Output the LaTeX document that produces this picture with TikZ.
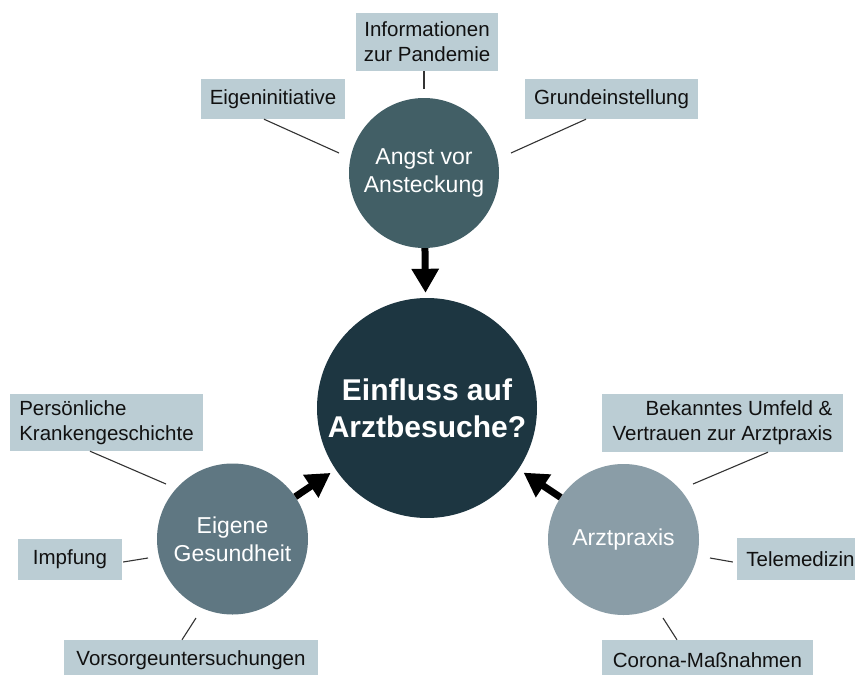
\documentclass[tikz,border=0pt]{standalone}
\usepackage{fontspec}
\setmainfont{Liberation Sans}
\usetikzlibrary{arrows.meta,calc}
\definecolor{boxfill}{HTML}{BBCDD4}
\definecolor{ctop}{HTML}{425F66}
\definecolor{cleft}{HTML}{5F7782}
\definecolor{cright}{HTML}{8A9DA7}
\definecolor{ccenter}{HTML}{1D3641}
\definecolor{txt}{HTML}{111111}
\begin{document}
\begin{tikzpicture}[x=1pt,y=-1pt,
  infobox/.style={fill=boxfill, text=txt, inner sep=0pt, font=\fontsize{20.5}{25}\selectfont, align=center},
  topic/.style={circle, inner sep=0pt, text=white, font=\fontsize{23}{27.7}\selectfont, align=center},
  link/.style={draw=black!80, line width=1.1pt},
  bigarrow/.style={line width=7pt, -{Triangle[width=26pt,length=24pt]}}]
\clip (0,0) rectangle (855,675);
\fill[white] (0,0) rectangle (855,675);

% circles
\node[topic, fill=ccenter, minimum size=220pt, font=\bfseries\fontsize{30}{37}\selectfont] (einfluss) at (427,408) {Einfluss auf\\Arztbesuche?};
\node[topic, fill=ctop, minimum size=150pt] (angst) at (424,173) {Angst vor\\Ansteckung};
\node[topic, fill=cleft, minimum size=151pt] (gesund) at (232.5,539) {Eigene\\Gesundheit};
\node[topic, fill=cright, minimum size=151pt] (praxis) at (623.5,539.5) {Arztpraxis};

% boxes
\node[infobox, minimum width=142pt, minimum height=58pt] (info) at (427,42) {Informationen\\zur Pandemie};
\node[infobox, minimum width=144pt, minimum height=40pt] (eigen) at (273,99) {Eigeninitiative};
\node[infobox, minimum width=173pt, minimum height=40pt] (grund) at (611.5,99) {Grundeinstellung};
\node[infobox, align=left, minimum width=193pt, minimum height=57pt] (pers) at (106.5,422.5) {Persönliche\\Krankengeschichte};
\node[infobox, minimum width=104pt, minimum height=41pt] (impf) at (70,559.5) {Impfung};
\node[infobox, minimum width=254pt, minimum height=40pt] (vorsorge) at (191,660) {Vorsorgeuntersuchungen};
\node[infobox, align=right, minimum width=241pt, minimum height=58pt] (bekannt) at (722.5,423) {Bekanntes Umfeld \&\\Vertrauen zur Arztpraxis};
\node[infobox, minimum width=127pt, minimum height=42pt] (tele) at (800.5,559) {Telemedizin};
\node[infobox, minimum width=211pt, minimum height=40pt] (corona) at (707.5,660) {Corona-Maßnahmen};

% connectors
\draw[link] ($(info.south)+(-3,0)$) -- ($(angst.center)+(0,-84)$);
\draw[link] ($(eigen.south)+(-9,0)$) -- ($(angst.center)+(-85,-20)$);
\draw[link] ($(grund.south)+(-25.5,0)$) -- ($(angst.center)+(87,-20)$);
\draw[link] ($(pers.south)+(-16.5,0)$) -- ($(gesund.center)+(-66.5,-55)$);
\draw[link] ($(impf.east)+(1,2.5)$) -- ($(gesund.center)+(-84.5,19)$);
\draw[link] ($(vorsorge.north)+(-9,0)$) -- ($(gesund.center)+(-36.5,79)$);
\draw[link] ($(bekannt.south)+(45.5,0)$) -- ($(praxis.center)+(69.5,-55.5)$);
\draw[link] ($(praxis.center)+(86.5,18.5)$) -- ($(tele.west)+(-4,3)$);
\draw[link] ($(corona.north)+(-30.5,0)$) -- ($(praxis.center)+(39.5,78.5)$);

% arrows
\draw[bigarrow, shorten >=5pt] (angst) -- (einfluss);
\draw[bigarrow, shorten >=6pt] (gesund) -- (einfluss);
\draw[bigarrow, shorten >=6pt] (praxis) -- (einfluss);
\end{tikzpicture}
\end{document}
